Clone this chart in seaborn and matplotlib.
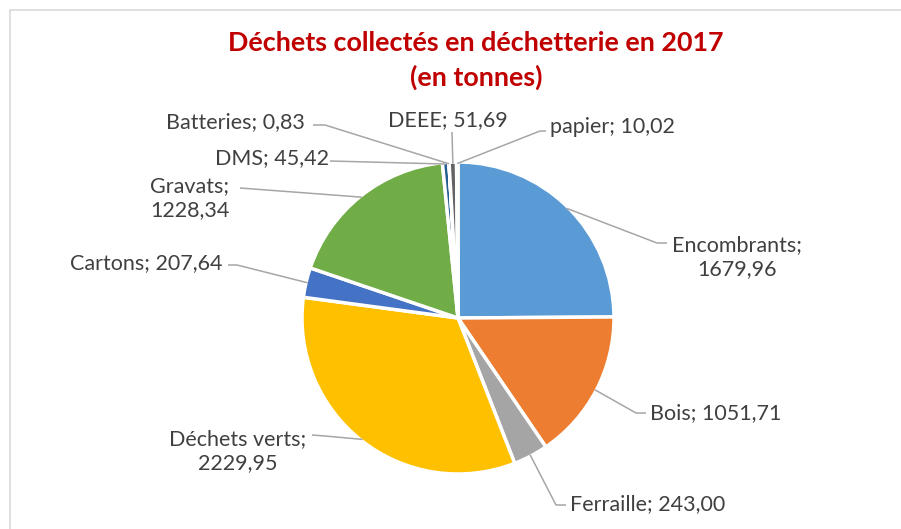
import numpy as np
import matplotlib.pyplot as plt
from matplotlib.patches import Rectangle
import seaborn as sns

categories = ["Encombrants", "Bois", "Ferraille", "Déchets verts", "Cartons",
              "Gravats", "DMS", "Batteries", "DEEE", "papier"]
tonnes = [1679.96, 1051.71, 243.00, 2229.95, 207.64,
          1228.34, 45.42, 0.83, 51.69, 10.02]
two_lines = ["Encombrants", "Déchets verts", "Gravats"]

colors = ["#5B9BD5", "#ED7D31", "#A5A5A5", "#FFC000", "#4472C4",
          "#70AD47", "#255E91", "#9E480E", "#636363", "#997300"]

sns.set_theme(style="white")
plt.rcParams['font.family'] = ['Lato', 'DejaVu Sans']

W, H = 901, 529
fig = plt.figure(figsize=(W / 100, H / 100), dpi=100)
ax = fig.add_axes([0, 0, 1, 1])

# cadre du graphique
fig.patches.append(Rectangle((10 / W, -0.1), 1.1, 1 - 10 / H + 0.1,
                             transform=fig.transFigure, fill=False,
                             edgecolor="#D9D9D9", linewidth=1.2))

cx, cy, r = 458, H - 318, 156
wedges, _ = ax.pie(tonnes, colors=colors, startangle=90, counterclock=False,
                   center=(cx, cy), radius=r, frame=True,
                   wedgeprops=dict(edgecolor="white", linewidth=2.5))

# position des étiquettes (pixels depuis le haut) : x, y, alignement, coude, fin
label_pos = {
    "Encombrants": (737, 257, "center", (657, 243), (667, 243)),
    "Bois": (650, 413, "left", (636, 413), (646, 413)),
    "Ferraille": (570, 504, "left", (556, 505), (566, 505)),
    "Déchets verts": (238, 451, "center", (325, 436), (312, 435)),
    "Cartons": (70, 263, "left", (237, 265), (228, 265)),
    "Gravats": (190, 198, "center", (240, 188), (240, 188)),
    "DMS": (215, 158, "left", (330, 161), (330, 161)),
    "Batteries": (166, 122, "left", (325, 125), (313, 125)),
    "DEEE": (388, 120, "left", (452, 132), (452, 132)),
    "papier": (550, 127, "left", (540, 131), (546, 131)),
}

for w, name, v in zip(wedges, categories, tonnes):
    val = f"{v:.2f}".replace(".", ",")
    txt = f"{name};\n{val}" if name in two_lines else f"{name}; {val}"
    x, y, ha, elbow, end = label_pos[name]
    ang = np.deg2rad((w.theta1 + w.theta2) / 2)
    sx, sy = cx + r * 0.99 * np.cos(ang), cy + r * 0.99 * np.sin(ang)
    ax.plot([sx, elbow[0], end[0]], [sy, H - elbow[1], H - end[1]],
            color="#A6A6A6", linewidth=1.1, solid_capstyle="butt")
    ax.text(x, H - y, txt, ha=ha, va="center", fontsize=15.5,
            color="#404040", linespacing=1.2)

ax.text(476, H - 43, "Déchets collectés en déchetterie en 2017",
        ha="center", va="center", fontsize=19.4, fontweight="bold", color="#C00000")
ax.text(476, H - 77, "(en tonnes)",
        ha="center", va="center", fontsize=19.4, fontweight="bold", color="#C00000")

ax.set_xlim(0, W)
ax.set_ylim(0, H)
ax.set_axis_off()

fig.savefig("out.png", dpi=100)
